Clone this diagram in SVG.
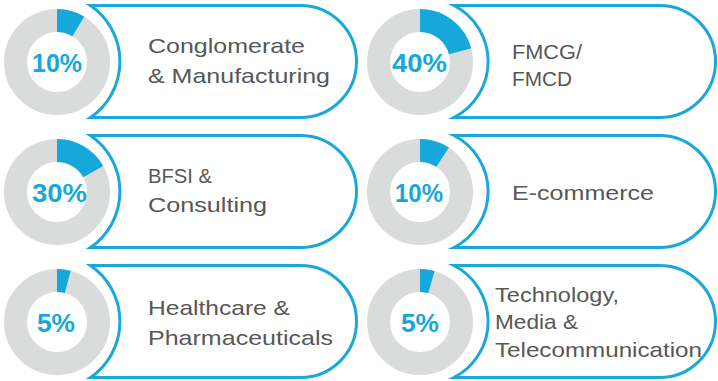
<svg xmlns="http://www.w3.org/2000/svg" width="718" height="381" viewBox="0 0 718 381">
<style>
.bg{fill:#ffffff}
.box{fill:#ffffff;stroke:#1aa8db;stroke-width:3;stroke-linejoin:miter;stroke-miterlimit:10}
.ring{fill:none;stroke:#dadbdb;stroke-width:23}
.seg{fill:none;stroke:#17a8db;stroke-width:23}
.pct{font-family:"Liberation Sans",Arial,sans-serif;font-weight:bold;font-size:25px;fill:#17a8db}
.lbl{font-family:"Liberation Sans",Arial,sans-serif;font-size:21px;fill:#575757}
</style>
<rect class="bg" x="0" y="0" width="718" height="381"/>
<g id="node-conglomerate">
<path class="box" d="M90.5,5.5 L300.5,5.5 A56,56 0 0 1 300.5,117.5 L90.5,117.5 A68,68 0 0 0 90.5,5.5 Z"/>
<circle class="ring" cx="57" cy="62" r="41.5"/>
<circle class="seg" cx="57" cy="62" r="41.5" stroke-dasharray="22.4 300" transform="rotate(-90 57 62)"/>
<text class="pct" x="32" y="72" textLength="50" lengthAdjust="spacingAndGlyphs">10%</text>
<text class="lbl" x="148" y="53" textLength="157" lengthAdjust="spacingAndGlyphs">Conglomerate</text>
<text class="lbl" x="148" y="83" textLength="182" lengthAdjust="spacingAndGlyphs">&amp; Manufacturing</text>
</g>
<g id="node-fmcg">
<path class="box" d="M454,5.5 L659.5,5.5 A56,56 0 0 1 659.5,117.5 L454,117.5 A63,63 0 0 0 454,5.5 Z"/>
<circle class="ring" cx="420" cy="62" r="41.5"/>
<circle class="seg" cx="420" cy="62" r="41.5" stroke-dasharray="54.2 300" transform="rotate(-90 420 62)"/>
<text class="pct" x="392" y="72" textLength="55" lengthAdjust="spacingAndGlyphs">40%</text>
<text class="lbl" x="512" y="59" textLength="70" lengthAdjust="spacingAndGlyphs">FMCG/</text>
<text class="lbl" x="512" y="86" textLength="60" lengthAdjust="spacingAndGlyphs">FMCD</text>
</g>
<g id="node-bfsi">
<path class="box" d="M90.5,135.5 L300.5,135.5 A56,56 0 0 1 300.5,247.5 L90.5,247.5 A68,68 0 0 0 90.5,135.5 Z"/>
<circle class="ring" cx="57" cy="192" r="41.5"/>
<circle class="seg" cx="57" cy="192" r="41.5" stroke-dasharray="43.8 300" transform="rotate(-90 57 192)"/>
<text class="pct" x="32" y="202" textLength="55" lengthAdjust="spacingAndGlyphs">30%</text>
<text class="lbl" x="148" y="183" textLength="64" lengthAdjust="spacingAndGlyphs">BFSI &amp;</text>
<text class="lbl" x="148" y="212" textLength="119" lengthAdjust="spacingAndGlyphs">Consulting</text>
</g>
<g id="node-ecommerce">
<path class="box" d="M454,135.5 L659.5,135.5 A56,56 0 0 1 659.5,247.5 L454,247.5 A63,63 0 0 0 454,135.5 Z"/>
<circle class="ring" cx="420" cy="192" r="41.5"/>
<circle class="seg" cx="420" cy="192" r="41.5" stroke-dasharray="23.9 300" transform="rotate(-90 420 192)"/>
<text class="pct" x="395" y="202" textLength="48" lengthAdjust="spacingAndGlyphs">10%</text>
<text class="lbl" x="512" y="200" textLength="142" lengthAdjust="spacingAndGlyphs">E-commerce</text>
</g>
<g id="node-healthcare">
<path class="box" d="M90.5,265.5 L300.5,265.5 A56,56 0 0 1 300.5,377.5 L90.5,377.5 A68,68 0 0 0 90.5,265.5 Z"/>
<circle class="ring" cx="57" cy="322" r="41.5"/>
<circle class="seg" cx="57" cy="322" r="41.5" stroke-dasharray="10.9 300" transform="rotate(-90 57 322)"/>
<text class="pct" x="37" y="332" textLength="38" lengthAdjust="spacingAndGlyphs">5%</text>
<text class="lbl" x="148" y="315" textLength="142" lengthAdjust="spacingAndGlyphs">Healthcare &amp;</text>
<text class="lbl" x="148" y="345" textLength="185" lengthAdjust="spacingAndGlyphs">Pharmaceuticals</text>
</g>
<g id="node-technology">
<path class="box" d="M454,265.5 L659.5,265.5 A56,56 0 0 1 659.5,377.5 L454,377.5 A63,63 0 0 0 454,265.5 Z"/>
<circle class="ring" cx="420" cy="322" r="41.5"/>
<circle class="seg" cx="420" cy="322" r="41.5" stroke-dasharray="11.6 300" transform="rotate(-90 420 322)"/>
<text class="pct" x="401" y="332" textLength="38" lengthAdjust="spacingAndGlyphs">5%</text>
<text class="lbl" x="495" y="302" textLength="124" lengthAdjust="spacingAndGlyphs">Technology,</text>
<text class="lbl" x="495" y="329" textLength="83" lengthAdjust="spacingAndGlyphs">Media &amp;</text>
<text class="lbl" x="495" y="357" textLength="207" lengthAdjust="spacingAndGlyphs">Telecommunication</text>
</g>
<g id="connectors"></g>
</svg>
